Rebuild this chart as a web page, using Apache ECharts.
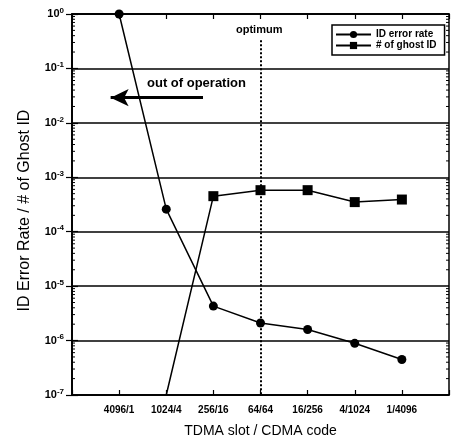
<!DOCTYPE html>
<html lang="en">
<head>
    <meta charset="UTF-8">
    <title>ID error rate</title>
    <style>
        html, body { margin: 0; padding: 0; background: #fff; }
        #chart { width: 455px; height: 445px; }
    </style>
</head>
<body>
    <div id="chart"></div>
    <script src="https://cdn.jsdelivr.net/npm/echarts@6/dist/echarts.min.js"></script>
    <script>
        // data
        var categories = ['4096/1', '1024/4', '256/16', '64/64', '16/256', '4/1024', '1/4096'];
        var errorRate = [1, 2.6e-4, 4.3e-6, 2.1e-6, 1.6e-6, 8.9e-7, 4.5e-7];
        var ghostId = [null, 1e-7, 4.5e-4, 5.8e-4, 5.8e-4, 3.5e-4, 3.9e-4];
        var yMin = 1e-7, yMax = 1;

        var font = "'Liberation Sans', Arial, sans-serif";

        function toPairs(arr) {
            var out = [];
            arr.forEach(function (v, i) {
                if (v == null) return;
                // the ghost ID line starts at the bottom edge, no marker there
                if (v <= yMin) out.push({ value: [i + 1, v], symbol: 'none' });
                else out.push([i + 1, v]);
            });
            return out;
        }

        // minor log ticks 2..9 of every decade (axis decoration)
        var minorTicks = [];
        for (var e = -7; e < 0; e++) {
            for (var m = 2; m <= 9; m++) minorTicks.push([0, m * Math.pow(10, e)]);
        }

        var chart = echarts.init(document.getElementById('chart'));

        var option = {
            animation: false,
            textStyle: { fontFamily: font, color: '#000' },
            grid: { left: 72, right: 6, top: 14, bottom: 50, show: true, borderColor: '#000', borderWidth: 1.5 },
            legend: {
                data: ['ID error rate', '# of ghost ID'],
                orient: 'vertical',
                left: 332, top: 25,
                padding: [4, 8, 4, 3],
                itemGap: 0,
                itemWidth: 35, itemHeight: 9,
                borderColor: '#000', borderWidth: 1.5,
                backgroundColor: '#fff',
                textStyle: { fontFamily: font, fontSize: 10, fontWeight: 'bold', color: '#000', lineHeight: 11 }
            },
            xAxis: [{
                type: 'value', min: 0, max: 8, interval: 1,
                name: 'TDMA slot / CDMA code', nameLocation: 'middle', nameGap: 29,
                nameTextStyle: { fontFamily: font, fontSize: 14, color: '#000' },
                axisLine: { lineStyle: { color: '#000', width: 1.5 } },
                axisTick: { inside: true, length: 5, lineStyle: { color: '#000', width: 1.2 } },
                axisLabel: {
                    margin: 10, fontSize: 10, fontWeight: 'bold', color: '#000',
                    formatter: function (v) { return categories[v - 1] || ''; }
                },
                splitLine: { show: false }
            }, {
                type: 'value', min: 0, max: 8, interval: 1, position: 'top',
                axisLine: { lineStyle: { color: '#000', width: 1.5 } },
                axisTick: { inside: true, length: 5, lineStyle: { color: '#000', width: 1.2 } },
                axisLabel: { show: false },
                splitLine: { show: false }
            }],
            yAxis: [{
                type: 'log', logBase: 10, min: yMin, max: yMax, interval: 1,
                name: 'ID Error Rate / # of Ghost ID', nameLocation: 'middle', nameGap: 39,
                nameTextStyle: { fontFamily: font, fontSize: 16, color: '#000', padding: [0, 12, 0, 0] },
                axisLine: { lineStyle: { color: '#000', width: 1.5 } },
                axisTick: { inside: true, length: 6, lineStyle: { color: '#000', width: 1.2 } },
                axisLabel: {
                    margin: 8,
                    formatter: function (v) {
                        var ex = Math.round(Math.log(v) / Math.LN10);
                        return '{b|10}{s|' + ex + '}';
                    },
                    rich: {
                        b: { fontFamily: font, fontSize: 11, fontWeight: 'bold', color: '#000' },
                        s: { fontFamily: font, fontSize: 8, fontWeight: 'bold', color: '#000', padding: [0, 0, 7, 0] }
                    }
                },
                splitLine: { show: true, lineStyle: { color: '#000', width: 1.5 } }
            }, {
                type: 'log', logBase: 10, min: yMin, max: yMax, interval: 1, position: 'right',
                axisLine: { lineStyle: { color: '#000', width: 1.5 } },
                axisTick: { inside: true, length: 6, lineStyle: { color: '#000', width: 1.2 } },
                axisLabel: { show: false },
                splitLine: { show: false }
            }],
            series: [{
                name: 'ID error rate',
                type: 'line',
                data: toPairs(errorRate),
                symbol: 'circle', symbolSize: 9,
                itemStyle: { color: '#000' },
                lineStyle: { color: '#000', width: 1.5 },
                markLine: {
                    silent: true,
                    symbol: ['none', 'none'],
                    label: { show: false },
                    data: [
                        [{ coord: [4, 0.33], lineStyle: { type: 'dotted', width: 2, color: '#000' } },
                         { coord: [4, yMin] }],
                        [{ coord: [2.78, 0.029], symbol: 'none', lineStyle: { type: 'solid', width: 3, color: '#000' } },
                         { coord: [0.82, 0.029], symbol: 'arrow', symbolSize: [13, 18] }]
                    ]
                }
            }, {
                name: '# of ghost ID',
                type: 'line',
                data: toPairs(ghostId),
                symbol: 'rect', symbolSize: 10,
                itemStyle: { color: '#000' },
                lineStyle: { color: '#000', width: 1.5 }
            }, {
                name: 'minor',
                type: 'custom',
                silent: true,
                data: minorTicks,
                renderItem: function (params, api) {
                    var p = api.coord([0, api.value(1)]);
                    var r = api.coord([8, api.value(1)]);
                    return {
                        type: 'group',
                        children: [
                            { type: 'line', shape: { x1: p[0], y1: p[1], x2: p[0] + 3, y2: p[1] }, style: { stroke: '#000', lineWidth: 1 } },
                            { type: 'line', shape: { x1: r[0], y1: r[1], x2: r[0] - 3, y2: r[1] }, style: { stroke: '#000', lineWidth: 1 } }
                        ]
                    };
                }
            }],
            graphic: [{
                type: 'text', left: 147, top: 77,
                style: { text: 'out of operation', font: "bold 13px " + font, fill: '#000' }
            }, {
                type: 'text', left: 236, top: 24,
                style: { text: 'optimum', font: "bold 11px " + font, fill: '#000' }
            }]
        };

        chart.setOption(option);
    </script>
</body>
</html>
